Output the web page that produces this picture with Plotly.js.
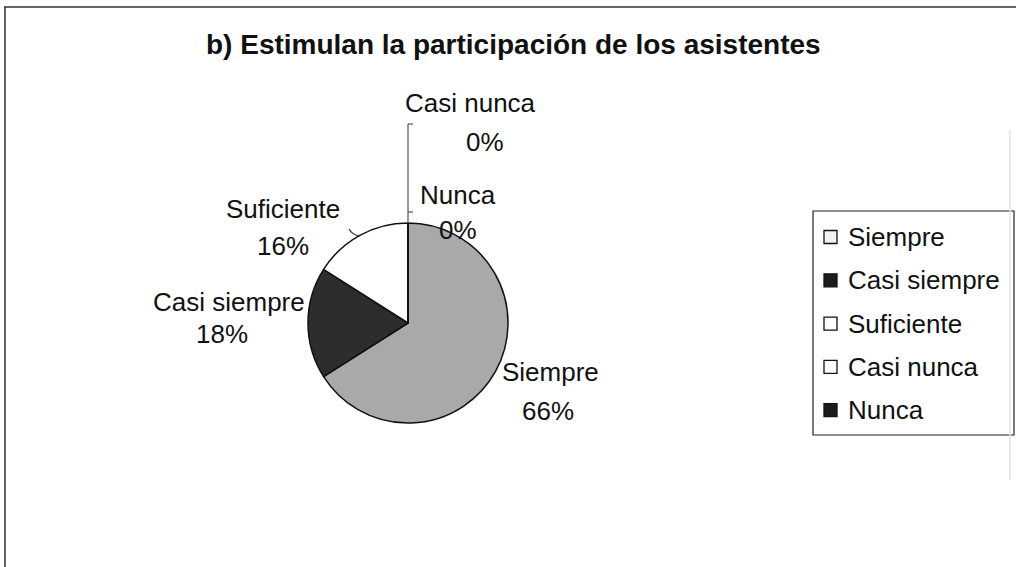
<!DOCTYPE html>
<html>
<head>
<meta charset="utf-8">
<script src="https://cdn.plot.ly/plotly-3.0.1.min.js"></script>
<style>html,body{margin:0;padding:0;background:#fff}#chart{width:1016px;height:567px}</style>
</head>
<body>
<div id="chart"></div>
<script>
// ---- data ----
const categories = ["Siempre", "Casi siempre", "Suficiente", "Casi nunca", "Nunca"];
const values = [66, 18, 16, 0, 0];
const percentLabels = ["66%", "18%", "16%", "0%", "0%"];
const titleText = "b) Estimulan la participación de los asistentes";

// ---- styles ----
const sliceColors = ["#a9a9a9", "#2d2d2d", "#ffffff", "#ffffff", "#1c1c1c"];
const swatchColors = ["#f2f2f2", "#1c1c1c", "#ffffff", "#ffffff", "#1c1c1c"];
const W = 1016, H = 567;
const px = x => x / W;
const py = y => 1 - y / H;
const FONT = "Liberation Sans, Arial, sans-serif";
const LABEL_SIZE = 26;

// pie geometry (pixels)
const cx = 408, cy = 323, r = 100;

// label positions (pixels) for name and percent, per category
const namePos = [[550, 372], [229, 302], [283, 209], [470, 103], [458, 195]];
const pctPos  = [[548, 411], [222, 334], [283, 246], [485, 142], [458, 230]];

const annotations = [];
categories.forEach((c, i) => {
  annotations.push({xref: "paper", yref: "paper", x: px(namePos[i][0]), y: py(namePos[i][1]),
    text: c, showarrow: false, xanchor: "center", yanchor: "middle",
    font: {family: FONT, size: LABEL_SIZE, color: "#111"}});
  annotations.push({xref: "paper", yref: "paper", x: px(pctPos[i][0]), y: py(pctPos[i][1]),
    text: percentLabels[i], showarrow: false, xanchor: "center", yanchor: "middle",
    font: {family: FONT, size: LABEL_SIZE, color: "#111"}});
});

annotations.push({xref: "paper", yref: "paper", x: px(513), y: py(45), text: "<b>" + titleText + "</b>",
  showarrow: false, xanchor: "center", yanchor: "middle",
  font: {family: FONT, size: 28, color: "#111"}});

// manual legend
const legX0 = 813, legX1 = 1014, legY0 = 211, legY1 = 435;
const legItemY0 = 237, legStep = 43.3;
const shapes = [];
shapes.push({type: "rect", xref: "paper", yref: "paper", x0: px(legX0), x1: px(legX1), y0: py(legY1), y1: py(legY0),
  line: {color: "#222", width: 1.2}, fillcolor: "rgba(0,0,0,0)"});
categories.forEach((c, i) => {
  const y = legItemY0 + i * legStep;
  shapes.push({type: "rect", xref: "paper", yref: "paper", x0: px(824), x1: px(837), y0: py(y + 6.5), y1: py(y - 6.5),
    line: {color: "#111", width: 1.3}, fillcolor: swatchColors[i]});
  annotations.push({xref: "paper", yref: "paper", x: px(846), y: py(y), text: c, showarrow: false,
    xanchor: "left", yanchor: "middle", font: {family: FONT, size: LABEL_SIZE, color: "#111"}});
});

// frame lines
shapes.push({type: "line", xref: "paper", yref: "paper", x0: px(4), x1: px(1016), y0: py(7), y1: py(7), line: {color: "#333", width: 1.5}});
shapes.push({type: "line", xref: "paper", yref: "paper", x0: px(5), x1: px(5), y0: py(7), y1: py(567), line: {color: "#333", width: 1.5}});
shapes.push({type: "line", xref: "paper", yref: "paper", x0: px(1010), x1: px(1010), y0: py(130), y1: py(480), line: {color: "#e2e2e2", width: 1.5}});

// leader lines
shapes.push({type: "line", xref: "paper", yref: "paper", x0: px(408), x1: px(408), y0: py(124), y1: py(cy - r), line: {color: "#777", width: 1.5}});
shapes.push({type: "line", xref: "paper", yref: "paper", x0: px(408), x1: px(413), y0: py(124), y1: py(124), line: {color: "#555", width: 1.2}});
shapes.push({type: "line", xref: "paper", yref: "paper", x0: px(408), x1: px(413), y0: py(212), y1: py(212), line: {color: "#555", width: 1.2}});
shapes.push({type: "path", xref: "paper", yref: "paper",
  path: `M ${px(349)} ${py(229)} Q ${px(352)} ${py(235)} ${px(360)} ${py(236)}`, line: {color: "#333", width: 1.2}});

const trace = {
  type: "pie",
  labels: categories,
  values: values,
  sort: false,
  direction: "clockwise",
  rotation: 0,
  textinfo: "none",
  hoverinfo: "label+percent",
  marker: {colors: sliceColors, line: {color: "#111", width: 1.5}},
  domain: {x: [px(cx - r), px(cx + r)], y: [py(cy + r), py(cy - r)]},
  showlegend: false
};

const layout = {
  width: W, height: H,
  margin: {l: 0, r: 0, t: 0, b: 0},
  paper_bgcolor: "#fff",
  showlegend: false,
  annotations: annotations,
  shapes: shapes
};

Plotly.newPlot("chart", [trace], layout, {staticPlot: true});
</script>
</body>
</html>
